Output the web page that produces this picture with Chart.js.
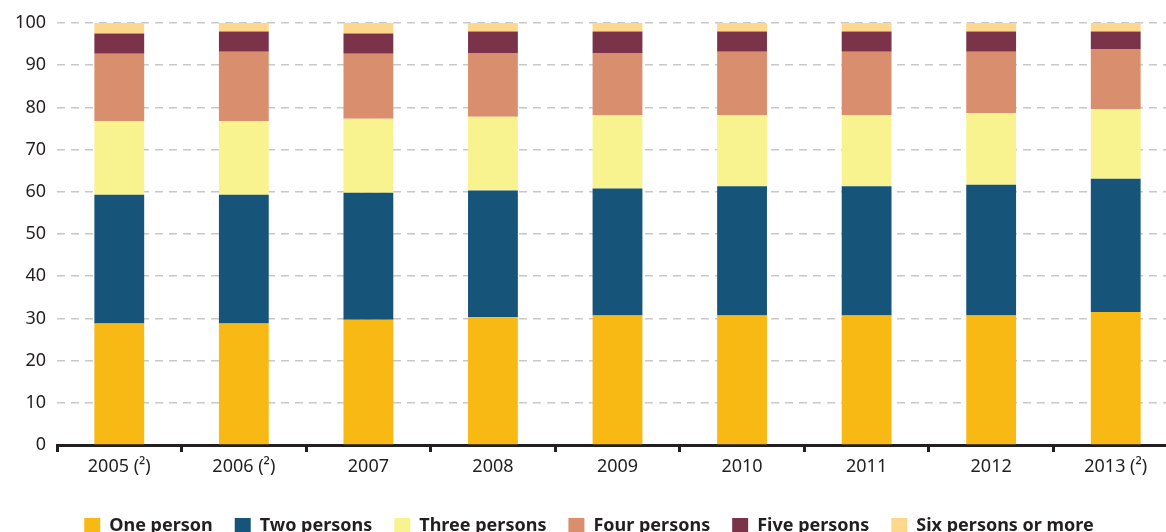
<!DOCTYPE html>
<html>
<head>
<meta charset="utf-8">
<script src="https://cdn.jsdelivr.net/npm/chart.js@4/dist/chart.umd.min.js"></script>
<style>
  html, body { margin: 0; padding: 0; background: #fff; overflow: hidden; }
  #wrap { position: relative; width: 1178px; height: 545px; }
</style>
</head>
<body>
<div id="wrap"><canvas id="householdChart"></canvas></div>
<script>
const years = ['2005 (²)', '2006 (²)', '2007', '2008', '2009', '2010', '2011', '2012', '2013 (²)'];
const onePerson = [28.8, 28.8, 29.7, 30.3, 30.7, 30.7, 30.7, 30.7, 31.5];
const twoPersons = [30.5, 30.5, 30.1, 30.0, 30.1, 30.6, 30.6, 31.0, 31.6];
const threePersons = [17.5, 17.5, 17.5, 17.5, 17.4, 16.9, 16.9, 17.0, 16.5];
const fourPersons = [15.9, 16.4, 15.4, 15.0, 14.6, 15.0, 15.0, 14.5, 14.1];
const fivePersons = [4.8, 4.8, 4.8, 5.2, 5.2, 4.8, 4.8, 4.8, 4.3];
const sixOrMore = [2.5, 2.0, 2.5, 2.0, 2.0, 2.0, 2.0, 2.0, 2.0];
const yTicks = [0, 10, 20, 30, 40, 50, 60, 70, 80, 90, 100];

const textColor = '#231f20';

function series(label, data, color) {
    return {
        label: label,
        data: data,
        backgroundColor: color,
        borderWidth: 0,
        barPercentage: 0.4,
        categoryPercentage: 1
    };
}

const ctx = document.getElementById('householdChart').getContext('2d');
const householdChart = new Chart(ctx, {
    type: 'bar',
    data: {
        labels: years,
        datasets: [
            series('One person', onePerson, '#f9b915'),
            series('Two persons', twoPersons, '#16547a'),
            series('Three persons', threePersons, '#f9f38f'),
            series('Four persons', fourPersons, '#d98f6d'),
            series('Five persons', fivePersons, '#7a3349'),
            series('Six persons or more', sixOrMore, '#fdd88c')
        ]
    },
    options: {
        responsive: true,
        maintainAspectRatio: false,
        animation: false,
        layout: {
            padding: { top: 23, left: 0, right: 0, bottom: 0 }
        },
        plugins: {
            legend: {
                position: 'bottom',
                labels: {
                    color: textColor,
                    boxWidth: 16,
                    boxHeight: 16,
                    padding: 22,
                    font: { family: 'Noto Sans', size: 18, weight: 'bold' }
                }
            },
            tooltip: { enabled: false }
        },
        scales: {
            x: {
                stacked: true,
                afterFit: function(scale) { scale.height = 50; },
                grid: {
                    offset: true,
                    drawOnChartArea: false,
                    drawTicks: true,
                    tickLength: 7,
                    tickWidth: 3,
                    tickColor: textColor
                },
                border: { display: true, color: textColor, width: 3 },
                ticks: {
                    color: textColor,
                    padding: 4,
                    maxRotation: 0,
                    font: { family: 'Noto Sans', size: 18 }
                }
            },
            y: {
                stacked: true,
                min: 0,
                max: 100,
                afterFit: function(scale) { scale.width = 57; },
                afterBuildTicks: function(scale) {
                    scale.ticks = yTicks.map(v => ({ value: v }));
                },
                grid: {
                    color: '#c8c8c8',
                    lineWidth: 1.5,
                    drawTicks: false
                },
                border: { display: false, dash: [8, 6] },
                ticks: {
                    color: textColor,
                    padding: 11,
                    font: { family: 'Noto Sans', size: 18 }
                }
            }
        }
    }
});
</script>
</body>
</html>
